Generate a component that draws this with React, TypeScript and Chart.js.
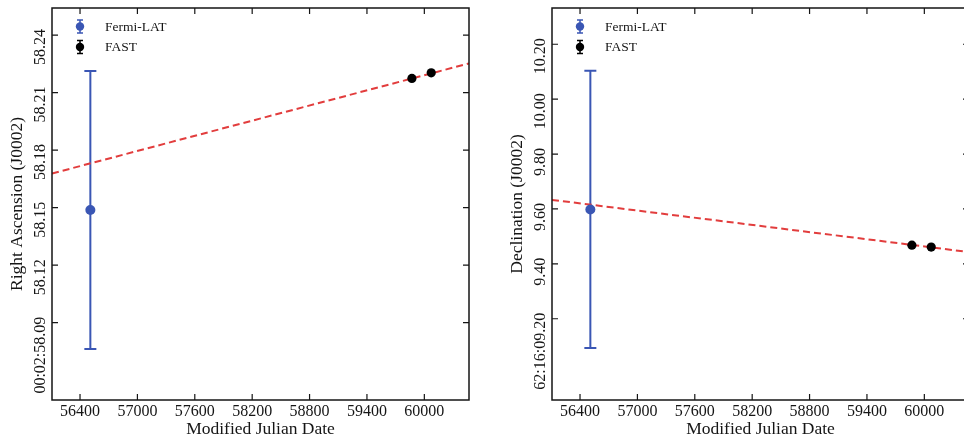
import React, { useEffect, useRef } from "react";
import { Chart, registerables } from "chart.js";
Chart.register(...registerables);

const FONT = "'Liberation Serif', 'Times New Roman', serif";
const BLUE = "#3a56b4";
const RED = "#e23d3d";
const INK = "#151515";

// Shared x axis (MJD)
const xMin = 56107;
const xMax = 60467;
const xTickValues = [56400, 57000, 57600, 58200, 58800, 59400, 60000];

// Right Ascension panel
const raTickValues = [58.09, 58.12, 58.15, 58.18, 58.21, 58.24];
const raTickLabels = ["00:02:58.09", "58.12", "58.15", "58.18", "58.21", "58.24"];
const raMin = 58.0497;
const raMax = 58.2541;

// Declination panel
const decTickValues = [9.2, 9.4, 9.6, 9.8, 10.0, 10.2];
const decTickLabels = ["62:16:09.20", "9.40", "9.60", "9.80", "10.00", "10.20"];
const decMin = 8.904;
const decMax = 10.332;

// Fermi-LAT position
const fermiMjd = [56508];
const raFermi = [58.1488];
const raFermiErr = [0.0725];
const decFermi = [9.598];
const decFermiErr = [0.505];

// FAST positions
const fastMjd = [59870, 60072];
const raFast = [58.2174, 58.2203];
const decFast = [9.468, 9.461];

// Linear fit (dashed)
const fitMjd = [56107, 60467];
const raFit = [58.1678, 58.2252];
const decFit = [9.633, 9.443];

const errorBarPlugin = {
  id: "errorBars",
  beforeDatasetsDraw(chart: any) {
    const { ctx } = chart;
    const xs = chart.scales.x;
    const ys = chart.scales.y;
    chart.data.datasets.forEach((ds: any) => {
      if (!ds.yErr) return;
      ds.data.forEach((pt: any, i: number) => {
        const e = ds.yErr[i];
        if (!e) return;
        const px = xs.getPixelForValue(pt.x);
        const top = ys.getPixelForValue(pt.y + e);
        const bot = ys.getPixelForValue(pt.y - e);
        ctx.save();
        ctx.strokeStyle = ds.borderColor;
        ctx.lineWidth = 2;
        ctx.beginPath();
        ctx.moveTo(px, top);
        ctx.lineTo(px, bot);
        ctx.moveTo(px - 6, top);
        ctx.lineTo(px + 6, top);
        ctx.moveTo(px - 6, bot);
        ctx.lineTo(px + 6, bot);
        ctx.stroke();
        ctx.restore();
      });
    });
  },
};

const framePlugin = {
  id: "frameTicks",
  afterDraw(chart: any) {
    const { ctx, chartArea: a } = chart;
    const xs = chart.scales.x;
    const ys = chart.scales.y;
    ctx.save();
    ctx.strokeStyle = INK;
    ctx.lineWidth = 1.2;
    ctx.beginPath();
    xs.ticks.forEach((t: any) => {
      const px = xs.getPixelForValue(t.value);
      ctx.moveTo(px, a.bottom);
      ctx.lineTo(px, a.bottom - 6);
      ctx.moveTo(px, a.top);
      ctx.lineTo(px, a.top + 6);
    });
    ys.ticks.forEach((t: any) => {
      const py = ys.getPixelForValue(t.value);
      ctx.moveTo(a.left, py);
      ctx.lineTo(a.left + 6, py);
      ctx.moveTo(a.right, py);
      ctx.lineTo(a.right - 6, py);
    });
    ctx.stroke();
    ctx.lineWidth = 1.5;
    ctx.strokeRect(a.left, a.top, a.right - a.left, a.bottom - a.top);
    ctx.restore();
  },
};

const legendPlugin = {
  id: "innerLegend",
  afterDraw(chart: any) {
    const { ctx, chartArea: a } = chart;
    const items = chart.data.datasets.filter((d: any) => d.inLegend);
    items.forEach((ds: any, i: number) => {
      const cx = a.left + 28;
      const cy = a.top + 18.5 + i * 20.5;
      ctx.save();
      ctx.strokeStyle = ds.backgroundColor;
      ctx.fillStyle = ds.backgroundColor;
      ctx.lineWidth = 1.5;
      ctx.beginPath();
      ctx.moveTo(cx, cy - 6.5);
      ctx.lineTo(cx, cy + 6.5);
      ctx.moveTo(cx - 3, cy - 6.5);
      ctx.lineTo(cx + 3, cy - 6.5);
      ctx.moveTo(cx - 3, cy + 6.5);
      ctx.lineTo(cx + 3, cy + 6.5);
      ctx.stroke();
      ctx.beginPath();
      ctx.arc(cx, cy, 4.2, 0, Math.PI * 2);
      ctx.fill();
      ctx.fillStyle = INK;
      ctx.font = `13.5px ${FONT}`;
      ctx.textBaseline = "middle";
      ctx.textAlign = "left";
      ctx.fillText(ds.label, a.left + 53, cy + 0.5);
      ctx.restore();
    });
  },
};

type PanelDef = {
  yTitle: string;
  yTicks: number[];
  yLabels: string[];
  yMin: number;
  yMax: number;
  fermiY: number[];
  fermiErr: number[];
  fastY: number[];
  fitY: number[];
};

const raPanel: PanelDef = {
  yTitle: "Right Ascension (J0002)",
  yTicks: raTickValues,
  yLabels: raTickLabels,
  yMin: raMin,
  yMax: raMax,
  fermiY: raFermi,
  fermiErr: raFermiErr,
  fastY: raFast,
  fitY: raFit,
};

const decPanel: PanelDef = {
  yTitle: "Declination (J0002)",
  yTicks: decTickValues,
  yLabels: decTickLabels,
  yMin: decMin,
  yMax: decMax,
  fermiY: decFermi,
  fermiErr: decFermiErr,
  fastY: decFast,
  fitY: decFit,
};

function buildConfig(p: PanelDef): any {
  return {
    type: "scatter",
    data: {
      datasets: [
        {
          label: "Fermi-LAT",
          inLegend: true,
          data: fermiMjd.map((x, i) => ({ x, y: p.fermiY[i] })),
          yErr: p.fermiErr,
          backgroundColor: BLUE,
          borderColor: BLUE,
          borderWidth: 0,
          pointRadius: 5,
          order: 0,
        },
        {
          label: "FAST",
          inLegend: true,
          data: fastMjd.map((x, i) => ({ x, y: p.fastY[i] })),
          backgroundColor: "#000",
          borderColor: "#000",
          borderWidth: 0,
          pointRadius: 4.6,
          order: 0,
        },
        {
          type: "line",
          label: "fit",
          data: fitMjd.map((x, i) => ({ x, y: p.fitY[i] })),
          borderColor: RED,
          borderWidth: 2,
          borderDash: [7, 4],
          pointRadius: 0,
          fill: false,
          order: 1,
        },
      ],
    },
    options: {
      responsive: false,
      animation: false,
      events: [],
      layout: { padding: { left: 0, top: 8, right: 13, bottom: 0 } },
      plugins: { legend: { display: false }, tooltip: { enabled: false } },
      scales: {
        x: {
          type: "linear",
          min: xMin,
          max: xMax,
          afterBuildTicks: (s: any) => {
            s.ticks = xTickValues.map((v) => ({ value: v }));
          },
          afterFit: (s: any) => {
            s.height = 40;
            s.paddingLeft = 0;
            s.paddingRight = 0;
          },
          grid: { display: false, drawTicks: false },
          border: { display: false },
          ticks: {
            autoSkip: false,
            maxRotation: 0,
            padding: 2,
            color: INK,
            font: { family: FONT, size: 16 },
            callback: (v: any, i: number) => String(xTickValues[i]),
          },
          title: {
            display: true,
            text: "Modified Julian Date",
            color: INK,
            font: { family: FONT, size: 17.5 },
            padding: { top: 0, bottom: 0 },
          },
        },
        y: {
          type: "linear",
          min: p.yMin,
          max: p.yMax,
          afterBuildTicks: (s: any) => {
            s.ticks = p.yTicks.map((v) => ({ value: v }));
          },
          afterFit: (s: any) => {
            s.width = 52;
            s.paddingTop = 0;
            s.paddingBottom = 0;
          },
          grid: { display: false, drawTicks: false },
          border: { display: false },
          ticks: {
            autoSkip: false,
            minRotation: 90,
            maxRotation: 90,
            labelOffset: -6,
            padding: 11,
            color: INK,
            font: { family: FONT, size: 16 },
            callback: (v: any, i: number) => p.yLabels[i],
          },
          title: {
            display: true,
            text: p.yTitle,
            color: INK,
            font: { family: FONT, size: 17.5 },
            padding: { top: 7, bottom: 0 },
          },
        },
      },
    },
    plugins: [errorBarPlugin, framePlugin, legendPlugin],
  };
}

function Panel({ panel, left }: { panel: PanelDef; left: number }) {
  const ref = useRef<HTMLCanvasElement | null>(null);
  useEffect(() => {
    if (!ref.current) return;
    const chart = new Chart(ref.current, buildConfig(panel));
    return () => chart.destroy();
  }, [panel]);
  return (
    <canvas
      ref={ref}
      width={482}
      height={440}
      style={{ position: "absolute", left, top: 0, width: 482, height: 440 }}
    />
  );
}

export default function App() {
  return (
    <div
      style={{
        position: "fixed",
        left: 0,
        top: 0,
        width: 964,
        height: 440,
        overflow: "hidden",
        background: "#fff",
      }}
    >
      <Panel panel={raPanel} left={0} />
      <Panel panel={decPanel} left={500} />
    </div>
  );
}
